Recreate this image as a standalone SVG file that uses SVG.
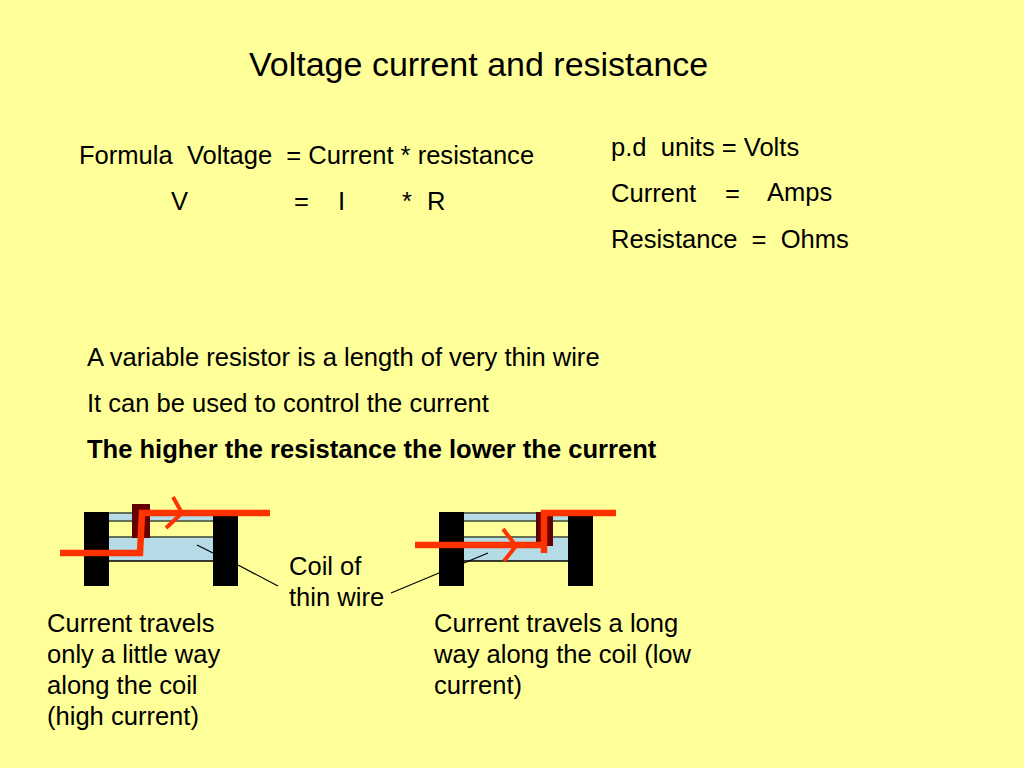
<svg xmlns="http://www.w3.org/2000/svg" width="1024" height="768" viewBox="0 0 1024 768">
<style>
text{font-family:"Liberation Sans",Arial,sans-serif;font-size:25.55px;fill:#000;white-space:pre}
.post{fill:#000}.tube{fill:#b5dbe6}
.wire{stroke:#667055;stroke-width:2;fill:none}
.blk{stroke:#000;stroke-width:1.5;fill:none}
.slider{fill:#660000}
.cur{stroke:#ff3300;stroke-width:6.5;fill:none}
.head{stroke:#ff3300;stroke-width:4;fill:none}
.lead{stroke:#000;stroke-width:1.2;fill:none}
</style>
<rect width="1024" height="768" fill="#ffff99"/>
<g id="title"><text x="249" y="76" style="font-size:34px">Voltage current and resistance</text></g>
<g id="formula"><text x="79" y="164">Formula  Voltage  = Current * resistance</text>
<text x="171" y="210">V</text><text x="294" y="210">=</text><text x="338" y="210">I</text><text x="402" y="210">*</text><text x="427" y="210">R</text></g>
<g id="units"><text x="611" y="156">p.d  units = Volts</text>
<text x="611" y="202">Current</text><text x="725" y="202">=</text><text x="767" y="201">Amps</text>
<text x="611" y="248">Resistance  =  Ohms</text></g>
<g id="description"><text x="87" y="366">A variable resistor is a length of very thin wire</text>
<text x="87" y="412">It can be used to control the current</text>
<text x="87" y="458" style="font-weight:bold">The higher the resistance the lower the current</text></g>
<g id="resistor-left">
<rect class="tube" x="109" y="513" width="104" height="9"/><rect class="tube" x="109" y="537" width="104" height="24"/>
<path class="wire" d="M109 513H213M109 521H213M109 537H213"/><path class="blk" d="M109 561H213"/>
<rect class="slider" x="132" y="504" width="18" height="34"/>
<rect class="post" x="84" y="512" width="25" height="74"/><rect class="post" x="213" y="512" width="25" height="74"/>
</g>
<g id="resistor-right">
<rect class="tube" x="464" y="513" width="104" height="9"/><rect class="tube" x="464" y="537" width="104" height="24"/>
<path class="wire" d="M464 513H568M464 521H568M464 537H568"/><path class="blk" d="M464 561H568"/>
<rect class="slider" x="536" y="512" width="17" height="34"/>
<rect class="post" x="439" y="512" width="25" height="74"/><rect class="post" x="568" y="512" width="25" height="74"/>
</g>
<g id="connectors">
<path class="cur" d="M60 553H140L142 513H270"/><path class="head" d="M173 497L182 513L166 528"/>
<path class="cur" d="M415 545H544"/><path class="cur" d="M544 553V513H616"/><path class="head" d="M503 529L516 546L504 561"/>
<path class="lead" d="M197 545L213 553M238 565L278 586"/>
<path class="lead" d="M488 553L464 563M439 573L391 593"/>
</g>
<g id="coil-label"><text x="289" y="575">Coil of</text><text x="289" y="606">thin wire</text></g>
<g id="caption-left"><text x="47" y="632">Current travels</text><text x="47" y="663">only a little way</text><text x="47" y="694">along the coil</text><text x="47" y="725">(high current)</text></g>
<g id="caption-right"><text x="434" y="632">Current travels a long</text><text x="434" y="663">way along the coil (low</text><text x="434" y="694">current)</text></g>
</svg>
